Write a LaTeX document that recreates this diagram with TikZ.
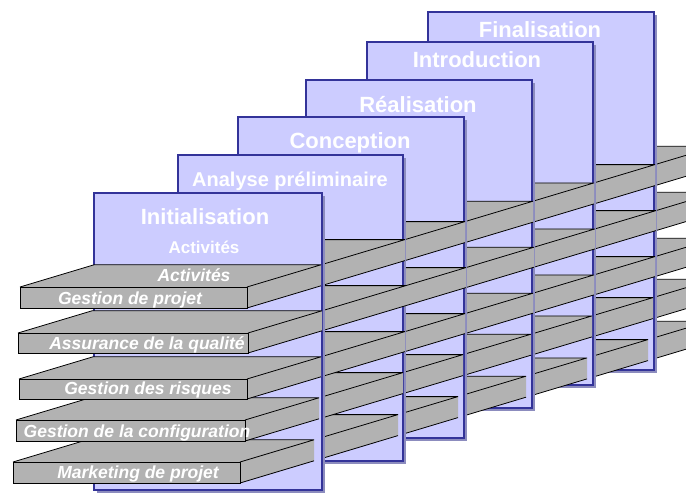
\documentclass[tikz,border=0pt]{standalone}
\usepackage{fontspec}
\setmainfont{Liberation Sans}
\definecolor{panelfill}{RGB}{204,204,255}
\definecolor{panelborder}{RGB}{51,51,153}
\definecolor{panelshadow}{RGB}{140,140,190}
\definecolor{plankgray}{RGB}{178,178,178}
\tikzset{
  panelbox/.style={fill=panelfill, draw=panelborder, line width=2pt},
  shadowbox/.style={fill=panelshadow},
  plankface/.style={fill=plankgray},
  edgeline/.style={draw=black, line width=0.8pt},
  ptitle/.style={text=white, font=\bfseries\fontsize{22}{22}\selectfont, anchor=base, inner sep=0pt},
  psub/.style={text=white, font=\bfseries\fontsize{17}{17}\selectfont, anchor=base, inner sep=0pt},
  plabel/.style={text=white, font=\bfseries\itshape\fontsize{17.5}{17.5}\selectfont, anchor=base, inner sep=0pt}
}
\def\pkslope{0.3}
% plank piece: x0, x1, ytop, ybottom, za, zb
\newcommand{\pkpiece}[6]{%
  \pgfmathsetmacro{\pkXa}{#1+#5}\pgfmathsetmacro{\pkXb}{#2+#5}%
  \pgfmathsetmacro{\pkXc}{#1+#6}\pgfmathsetmacro{\pkXd}{#2+#6}%
  \pgfmathsetmacro{\pkYa}{#3-\pkslope*#5}\pgfmathsetmacro{\pkYb}{#3-\pkslope*#6}%
  \pgfmathsetmacro{\pkYc}{#4-\pkslope*#5}\pgfmathsetmacro{\pkYd}{#4-\pkslope*#6}%
  \fill[plankface] (\pkXa,\pkYa) -- (\pkXb,\pkYa) -- (\pkXd,\pkYb) -- (\pkXc,\pkYb) -- cycle;
  \fill[plankface] (\pkXb,\pkYa) -- (\pkXd,\pkYb) -- (\pkXd,\pkYd) -- (\pkXb,\pkYc) -- cycle;
  \draw[edgeline] (\pkXb,\pkYa) -- (\pkXd,\pkYb) (\pkXb,\pkYc) -- (\pkXd,\pkYd) (\pkXc,\pkYb) -- (\pkXd,\pkYb);
}
% front part of a plank: x0, x1, ytop, ybottom, z1
\newcommand{\pkfront}[5]{%
  \pkpiece{#1}{#2}{#3}{#4}{0}{#5}%
  \pgfmathsetmacro{\pkXe}{#1+#5}\pgfmathsetmacro{\pkYe}{#3-\pkslope*#5}%
  \draw[edgeline] (#1,#3) -- (\pkXe,\pkYe);
  \filldraw[plankface, edgeline] (#1,#3) rectangle (#2,#4);
}
\newcommand{\pkslice}[2]{%
  \pkpiece{13}{240}{462}{483}{#1}{#2}%
  \pkpiece{16}{245}{420}{441}{#1}{#2}%
  \pkpiece{19}{247}{379}{399}{#1}{#2}%
  \pkpiece{18}{248}{333}{353}{#1}{#2}%
  \pkpiece{20}{247}{287}{308}{#1}{#2}%
}
% panel: left, top, right, bottom
\newcommand{\pnl}[4]{%
  \fill[shadowbox] ({#1+3},{#2+3}) rectangle ({#3+3},{#4+3});
  \draw[panelbox] (#1,#2) rectangle (#3,#4);
}
\begin{document}
\begin{tikzpicture}[x=1pt,y=-1pt]
\useasboundingbox (0,0) rectangle (686,496);
\fill[white] (0,0) rectangle (686,496);
\clip (0,0) rectangle (686,496);
% back to front
\pkslice{408}{469}
\pnl{428}{12}{654}{370}
\pkslice{347}{408}
\pnl{367}{42}{593}{385}
\pkslice{286}{347}
\pnl{306}{80}{532}{408}
\pkslice{218}{286}
\pnl{238}{117}{464}{438}
\pkslice{158}{218}
\pnl{178}{155}{403}{461}
\pkslice{74}{158}
\pnl{94}{193}{322}{490}
% front slice
\pkfront{13}{240}{462}{483}{74}
\pkfront{16}{245}{420}{441}{74}
\pkfront{19}{247}{379}{399}{74}
\pkfront{18}{248}{333}{353}{74}
\pkfront{20}{247}{287}{308}{74}
% panel titles
\node[ptitle] (tfin) at (540,37) {Finalisation};
\node[ptitle] (tintro) at (477,67) {Introduction};
\node[ptitle] (treal) at (418,112) {Réalisation};
\node[ptitle] (tconc) at (350,148) {Conception};
\node[ptitle, font=\bfseries\fontsize{20}{20}\selectfont] (tana) at (290,186) {Analyse préliminaire};
\node[ptitle] (tinit) at (205,224) {Initialisation};
\node[psub] (tact) at (204,253) {Activités};
% plank labels
\node[plabel] (lact) at (194,281) {Activités};
\node[plabel] (lgp) at (130,304) {Gestion de projet};
\node[plabel] (laq) at (147,349) {Assurance de la qualité};
\node[plabel] (lgr) at (148,394) {Gestion des risques};
\node[plabel] (lgc) at (137,437) {Gestion de la configuration};
\node[plabel] (lmp) at (138,478) {Marketing de projet};
\end{tikzpicture}
\end{document}
